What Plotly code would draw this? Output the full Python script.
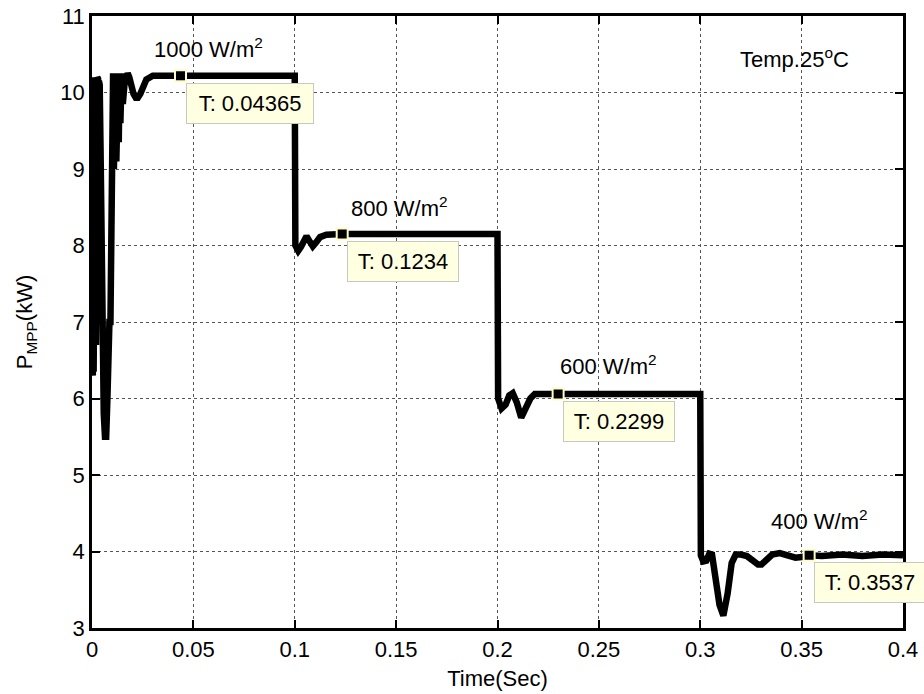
import plotly.graph_objects as go

# Simulated PV maximum power point tracking under stepped irradiance (25 °C)
time_s = [
    0.0000, 0.0002, 0.0004, 0.0006, 0.0008, 0.0010, 0.0012, 0.0014, 0.0016, 0.0018,
    0.0020, 0.0022, 0.0024, 0.0026, 0.0028, 0.0030, 0.0032, 0.0034, 0.0036, 0.0038,
    0.0042, 0.0046, 0.0052, 0.0058, 0.0064, 0.0070, 0.0076, 0.0081, 0.0086, 0.0091,
    0.0096, 0.0100, 0.0104, 0.0108, 0.0111, 0.0114, 0.0117, 0.0120, 0.0123, 0.0126,
    0.0129, 0.0132, 0.0136, 0.0140, 0.0146, 0.0152, 0.0160, 0.0168, 0.0176,
    0.0184, 0.0194, 0.0205, 0.0216, 0.0226, 0.0238, 0.0252, 0.0268, 0.0300,
    0.0436, 0.0700, 0.1000,
    0.1003, 0.1017, 0.1030, 0.1045, 0.1058, 0.1072, 0.1089, 0.1105, 0.1125, 0.1156,
    0.1190, 0.1234, 0.1600, 0.2000,
    0.2003, 0.2020, 0.2040, 0.2058, 0.2075, 0.2095, 0.2117, 0.2140, 0.2162, 0.2184,
    0.2230, 0.2299, 0.2600, 0.3000,
    0.3003, 0.3015, 0.3030, 0.3045, 0.3058, 0.3075, 0.3095, 0.3114, 0.3135, 0.3155,
    0.3175, 0.3200, 0.3230, 0.3260, 0.3285, 0.3302, 0.3325, 0.3355, 0.3392, 0.3430,
    0.3470, 0.3510, 0.3537, 0.3600, 0.3700, 0.3800, 0.3900, 0.4000,
]
power_kw = [
    6.40, 10.20, 6.30, 10.20, 6.35, 10.20, 6.40, 10.20, 6.50, 10.20,
    6.70, 10.20, 6.90, 10.20, 7.20, 10.18, 7.60, 10.15, 8.20, 10.10,
    9.30, 7.80, 6.70, 5.80, 5.50, 5.50, 6.00, 6.90, 7.00, 7.00,
    8.00, 9.00, 10.25, 9.00, 10.25, 9.05, 10.25, 9.10, 10.22, 9.20,
    10.22, 9.35, 10.24, 9.60, 10.25, 9.85, 10.10, 10.22, 10.25,
    10.20, 10.08, 9.98, 9.93, 9.93, 9.98, 10.08, 10.17, 10.22,
    10.22, 10.22, 10.22,
    8.00, 7.93, 7.98, 8.08, 8.12, 8.06, 7.99, 8.04, 8.11, 8.14,
    8.15, 8.15, 8.15, 8.15,
    6.00, 5.87, 5.92, 6.04, 6.07, 5.95, 5.75, 5.86, 6.00, 6.06,
    6.06, 6.06, 6.06, 6.06,
    3.95, 3.87, 3.88, 3.97, 3.96, 3.70, 3.30, 3.16, 3.45, 3.85,
    3.96, 3.96, 3.94, 3.88, 3.83, 3.83, 3.90, 3.96, 3.98, 3.95,
    3.92, 3.93, 3.95, 3.94, 3.96, 3.94, 3.96, 3.95,
]

# Data tips placed on the settled power at each irradiance level
tip_t = [0.04365, 0.1234, 0.2299, 0.3537]
tip_p = [10.22, 8.15, 6.06, 3.95]
tip_text = ["T: 0.04365", "T: 0.1234", "T: 0.2299", "T: 0.3537"]
tip_box_width = [112, 96, 96, 96]

# Irradiance labels
irr_labels = ["1000 W/m<sup>2</sup>", "800 W/m<sup>2</sup>", "600 W/m<sup>2</sup>", "400 W/m<sup>2</sup>"]
irr_x = [0.0576, 0.1519, 0.2549, 0.3586]
irr_y = [10.58, 8.50, 6.44, 4.41]

x_ticks = [0, 0.05, 0.1, 0.15, 0.2, 0.25, 0.3, 0.35, 0.4]
x_ticktext = ["0", "0.05", "0.1", "0.15", "0.2", "0.25", "0.3", "0.35", "0.4"]
y_ticks = [3, 4, 5, 6, 7, 8, 9, 10, 11]

FONT = "Liberation Sans, Arial, sans-serif"
FS = 22

fig = go.Figure()
fig.add_trace(go.Scatter(
    x=time_s, y=power_kw, mode="lines",
    line=dict(color="black", width=6.5),
    hoverinfo="skip", showlegend=False,
))
fig.add_trace(go.Scatter(
    x=tip_t, y=tip_p, mode="markers",
    marker=dict(symbol="square", size=11, color="black",
                line=dict(color="#fffcc8", width=2)),
    hoverinfo="skip", showlegend=False,
))

annotations = []
for t, p, txt, w in zip(tip_t, tip_p, tip_text, tip_box_width):
    annotations.append(dict(
        x=t, y=p, xref="x", yref="y", text=txt, showarrow=False,
        xanchor="left", yanchor="top", xshift=5, yshift=-7,
        bgcolor="#ffffe1", bordercolor="#c8c8c0", borderwidth=1, borderpad=7,
        width=w, align="center",
        font=dict(family=FONT, size=FS, color="black"),
    ))
for lbl, x, y in zip(irr_labels, irr_x, irr_y):
    annotations.append(dict(
        x=x, y=y, xref="x", yref="y", text=lbl, showarrow=False,
        xanchor="center", yanchor="middle",
        font=dict(family=FONT, size=FS, color="black"),
    ))
annotations.append(dict(
    x=0.3467, y=10.45, xref="x", yref="y", text="Temp.25<sup>o</sup>C",
    showarrow=False, xanchor="center", yanchor="middle",
    font=dict(family=FONT, size=FS, color="black"),
))

axis_common = dict(
    showline=True, linecolor="black", linewidth=2.5, mirror="allticks",
    ticks="inside", ticklen=8, tickwidth=1.5, tickcolor="black",
    showgrid=True, gridcolor="#555555", gridwidth=1, griddash="dot",
    zeroline=False, automargin=False,
    tickfont=dict(family=FONT, size=FS, color="black"),
)

fig.update_layout(
    width=924, height=694,
    margin=dict(l=92, r=21, t=16, b=66),
    paper_bgcolor="white", plot_bgcolor="white",
    font=dict(family=FONT, size=FS, color="black"),
    xaxis=dict(range=[0, 0.4], tickvals=x_ticks, ticktext=x_ticktext,
               title=dict(text="Time(Sec)", standoff=10,
                          font=dict(family=FONT, size=FS, color="black")),
               **axis_common),
    yaxis=dict(range=[3, 11], tickvals=y_ticks,
               title=dict(text="P<sub>MPP</sub>(kW)", standoff=22,
                          font=dict(family=FONT, size=FS, color="black")),
               **axis_common),
    annotations=annotations,
)

fig.write_html("out.html")
